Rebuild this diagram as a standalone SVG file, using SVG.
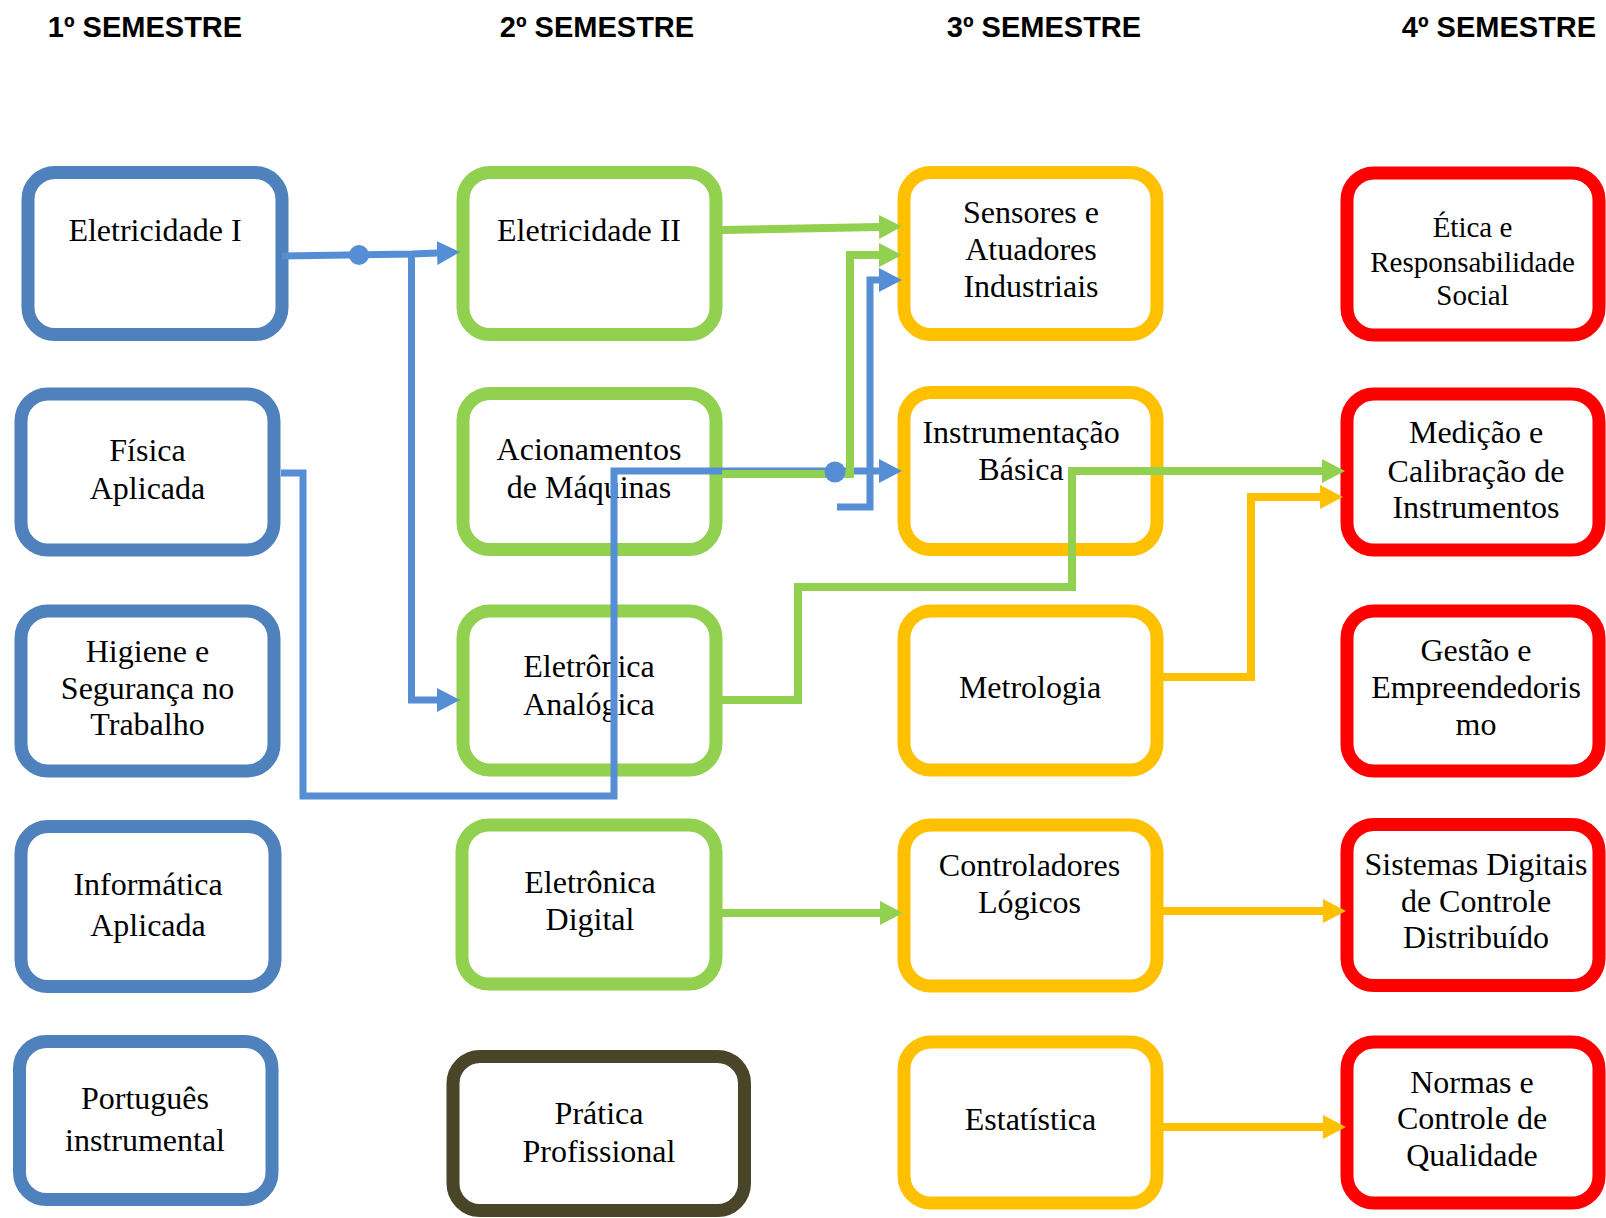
<svg xmlns="http://www.w3.org/2000/svg" width="1606" height="1218" viewBox="0 0 1606 1218">
<style>
.hdr{font-family:"Liberation Sans",Arial,sans-serif;font-weight:bold;font-size:29px;fill:#000;text-anchor:middle}
.lbl{font-family:"Liberation Serif","Times New Roman",serif;font-size:32px;fill:#000;text-anchor:middle}
.box{fill:#fff;stroke-width:13}
.b1{stroke:#4F81BD}
.b2{stroke:#92D050}
.b3{stroke:#FFC000}
.b4{stroke:#FF0000}
.b5{stroke:#4A4429}
.c{fill:none;stroke-linejoin:miter}
.cb{stroke:#558ED5;stroke-width:7}
.cg{stroke:#92D050;stroke-width:8}
.co{stroke:#FFC000;stroke-width:8}
</style>
<defs>
<marker id="ab" markerUnits="userSpaceOnUse" markerWidth="24" markerHeight="24" refX="0" refY="12" orient="auto"><path d="M0,0 L23,12 L0,24 z" fill="#558ED5"/></marker>
<marker id="ag" markerUnits="userSpaceOnUse" markerWidth="24" markerHeight="24" refX="0" refY="12" orient="auto"><path d="M0,0 L23,12 L0,24 z" fill="#92D050"/></marker>
<marker id="ao" markerUnits="userSpaceOnUse" markerWidth="24" markerHeight="24" refX="0" refY="12" orient="auto"><path d="M0,0 L23,12 L0,24 z" fill="#FFC000"/></marker>
</defs>
<rect width="1606" height="1218" fill="#fff"/>

<g id="headers">
<text class="hdr" x="145" y="37">1º SEMESTRE</text>
<text class="hdr" x="597" y="37">2º SEMESTRE</text>
<text class="hdr" x="1044" y="37">3º SEMESTRE</text>
<text class="hdr" x="1499" y="37">4º SEMESTRE</text>
</g>

<g id="n-eletricidade1"><rect class="box b1" x="28" y="172.5" width="254" height="162" rx="27"/><text class="lbl" x="155" y="241">Eletricidade I</text></g>
<g id="n-fisica"><rect class="box b1" x="21" y="394" width="253" height="156" rx="27"/><text class="lbl" x="147.5" y="461"><tspan x="147.5">Física</tspan><tspan x="147.5" y="498.5">Aplicada</tspan></text></g>
<g id="n-higiene"><rect class="box b1" x="21" y="611" width="253" height="160" rx="27"/><text class="lbl" x="147.5" y="662"><tspan x="147.5">Higiene e</tspan><tspan x="147.5" y="698.5">Segurança no</tspan><tspan x="147.5" y="735">Trabalho</tspan></text></g>
<g id="n-informatica"><rect class="box b1" x="21" y="826.5" width="254" height="160" rx="27"/><text class="lbl" x="148" y="895"><tspan x="148">Informática</tspan><tspan x="148" y="936">Aplicada</tspan></text></g>
<g id="n-portugues"><rect class="box b1" x="19.5" y="1041.5" width="252.5" height="158" rx="27"/><text class="lbl" x="145" y="1109"><tspan x="145">Português</tspan><tspan x="145" y="1151">instrumental</tspan></text></g>

<g id="n-eletricidade2"><rect class="box b2" x="463" y="172.5" width="253" height="162" rx="27"/><text class="lbl" x="589" y="241">Eletricidade II</text></g>
<g id="n-acionamentos"><rect class="box b2" x="463" y="393.5" width="253" height="156" rx="27"/><text class="lbl" x="589" y="460"><tspan x="589">Acionamentos</tspan><tspan x="589" y="498">de Máquinas</tspan></text></g>
<g id="n-analogica"><rect class="box b2" x="463" y="611" width="253" height="159" rx="27"/><text class="lbl" x="589" y="677"><tspan x="589">Eletrônica</tspan><tspan x="589" y="715">Analógica</tspan></text></g>
<g id="n-digital"><rect class="box b2" x="462" y="825" width="254" height="159" rx="27"/><text class="lbl" x="590" y="893"><tspan x="590">Eletrônica</tspan><tspan x="590" y="930">Digital</tspan></text></g>
<g id="n-pratica"><rect class="box b5" x="453" y="1056.5" width="291.5" height="154" rx="27"/><text class="lbl" x="599" y="1124"><tspan x="599">Prática</tspan><tspan x="599" y="1162">Profissional</tspan></text></g>

<g id="n-sensores"><rect class="box b3" x="904" y="172.5" width="253" height="162" rx="27"/><text class="lbl" x="1031" y="223"><tspan x="1031">Sensores e</tspan><tspan x="1031" y="260">Atuadores</tspan><tspan x="1031" y="297">Industriais</tspan></text></g>
<g id="n-instrumentacao"><rect class="box b3" x="904" y="392.5" width="253" height="157" rx="27"/><text class="lbl" x="1021" y="443"><tspan x="1021">Instrumentação</tspan><tspan x="1021" y="480">Básica</tspan></text></g>
<g id="n-metrologia"><rect class="box b3" x="904" y="611" width="253" height="159" rx="27"/><text class="lbl" x="1030" y="698">Metrologia</text></g>
<g id="n-controladores"><rect class="box b3" x="904" y="825" width="253" height="161" rx="27"/><text class="lbl" x="1029.5" y="876"><tspan x="1029.5">Controladores</tspan><tspan x="1029.5" y="912.5">Lógicos</tspan></text></g>
<g id="n-estatistica"><rect class="box b3" x="904" y="1042" width="253" height="161" rx="27"/><text class="lbl" x="1030.5" y="1130">Estatística</text></g>

<g id="n-etica"><rect class="box b4" x="1347" y="173" width="252" height="162" rx="27"/><text class="lbl" style="font-size:29px" x="1472.5" y="237"><tspan x="1472.5">Ética e</tspan><tspan x="1472.5" y="271.5">Responsabilidade</tspan><tspan x="1472.5" y="305">Social</tspan></text></g>
<g id="n-medicao"><rect class="box b4" x="1347" y="394" width="252" height="156" rx="27"/><text class="lbl" x="1476" y="443"><tspan x="1476">Medição e</tspan><tspan x="1476" y="481.5">Calibração de</tspan><tspan x="1476" y="517.5">Instrumentos</tspan></text></g>
<g id="n-gestao"><rect class="box b4" x="1347" y="611" width="252" height="160" rx="27"/><text class="lbl" x="1476" y="660.5"><tspan x="1476">Gestão e</tspan><tspan x="1476" y="698">Empreendedoris</tspan><tspan x="1476" y="735">mo</tspan></text></g>
<g id="n-sistemas"><rect class="box b4" x="1347" y="824.5" width="252" height="161" rx="27"/><text class="lbl" x="1476" y="875"><tspan x="1476">Sistemas Digitais</tspan><tspan x="1476" y="911.5">de Controle</tspan><tspan x="1476" y="948">Distribuído</tspan></text></g>
<g id="n-normas"><rect class="box b4" x="1347" y="1042" width="252" height="161" rx="27"/><text class="lbl" x="1472" y="1092.5"><tspan x="1472">Normas e</tspan><tspan x="1472" y="1129">Controle de</tspan><tspan x="1472" y="1166">Qualidade</tspan></text></g>

<g id="connectors">
<path class="c cb" d="M282,256 L412,254 L437,253" marker-end="url(#ab)"/>
<path class="c cb" d="M411.5,254 V700 H437" marker-end="url(#ab)"/>
<circle cx="359" cy="255" r="10" fill="#558ED5"/>
<path class="c cb" d="M281,473 H303 V796 H614 V471 H879" marker-end="url(#ab)"/>
<path class="c cg" d="M722,230 L879,227" marker-end="url(#ag)"/>
<path class="c cg" d="M722,474 H850 V255 H879" marker-end="url(#ag)"/>
<circle cx="835" cy="472" r="10.5" fill="#558ED5"/>
<path class="c cb" d="M837,507 H870 V280 H879" marker-end="url(#ab)"/>
<path class="c cg" d="M722,700 H798 V587 H1072 V471 H1322" marker-end="url(#ag)"/>
<path class="c co" d="M1163,677 H1251 V497 H1320" marker-end="url(#ao)"/>
<path class="c cg" d="M722,913 H880" marker-end="url(#ag)"/>
<path class="c co" d="M1163,911 H1323" marker-end="url(#ao)"/>
<path class="c co" d="M1163,1127 H1323" marker-end="url(#ao)"/>
</g>
</svg>
